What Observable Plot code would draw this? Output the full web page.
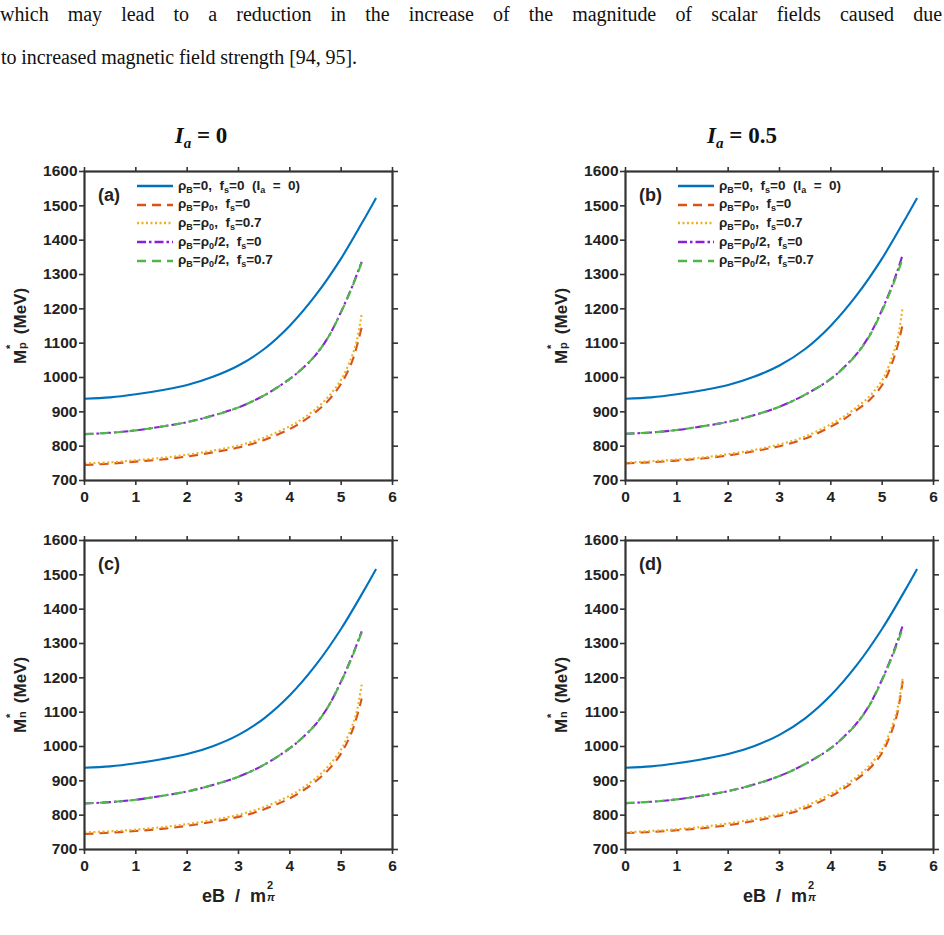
<!DOCTYPE html>
<html>
<head>
<meta charset="utf-8">
<script src="https://cdn.jsdelivr.net/npm/d3@7"></script>
<script src="https://cdn.jsdelivr.net/npm/@observablehq/plot@0.6"></script>
<style>
  html, body { margin: 0; padding: 0; background: #fff; }
  body { width: 944px; height: 935px; position: relative; overflow: hidden; }
  .abs { position: absolute; }
  .para { font-family: "Liberation Serif", serif; font-size: 20px; color: #111; white-space: nowrap; }
  .title { font-family: "Liberation Serif", "DejaVu Serif", serif; font-size: 23px; font-weight: bold; color: #111; transform: translateX(-50%); white-space: nowrap; }
  .title i { font-style: italic; }
  .title sub { font-size: 15px; vertical-align: -5px; font-style: italic; }
  .plabel { font-family: "Liberation Sans", Arial, sans-serif; font-weight: bold; font-size: 18px; color: #222; }
  .ylab { font-family: "Liberation Sans", Arial, sans-serif; font-weight: bold; font-size: 17px; color: #222; white-space: nowrap; transform: translate(-50%, -50%) rotate(-90deg); }
  .xlab { font-family: "Liberation Sans", Arial, sans-serif; font-weight: bold; font-size: 18px; color: #222; white-space: nowrap; transform: translateX(-50%); }
  .legend { font-family: "Liberation Sans", Arial, sans-serif; font-weight: bold; font-size: 13.5px; color: #222; }
  .legend .row { display: flex; align-items: center; height: 18.6px; white-space: nowrap; }
  .legend svg { margin-right: 5px; }
  .legend sub { font-size: 9px; vertical-align: -3px; }
  .stack { display: inline-block; position: relative; width: 11px; height: 1em; }
  .stack .sup { position: absolute; left: 1px; top: -0.45em; font-size: 11px; }
  .stack .sub { position: absolute; left: 1px; top: 0.6em; font-size: 11px; }
</style>
</head>
<body>
<script>
// ---------- data ----------
const xTicks = [0, 1, 2, 3, 4, 5, 6];
const yTicks = [700, 800, 900, 1000, 1100, 1200, 1300, 1400, 1500, 1600];

// eB / m_pi^2 grid for the rho_B = 0 curve
const xBlue = [0, 0.5, 1, 1.5, 2, 2.5, 3, 3.5, 4, 4.5, 5, 5.5, 5.68];
// eB / m_pi^2 grid for the finite-density curves
const xRho = [0, 0.5, 1, 1.5, 2, 2.5, 3, 3.5, 4, 4.25, 4.5, 4.75, 5, 5.2, 5.3, 5.4];

// Panel (a): M*_p, I_a = 0
const blueA   = [938, 942, 951, 963, 978, 1002, 1035, 1083, 1151, 1239, 1347, 1475, 1523];
const orangeA = [745, 749, 755, 761, 770, 782, 796, 818, 850, 872, 899, 933, 982, 1042, 1088, 1147];
const yellowA = [750, 753, 759, 766, 775, 787, 802, 825, 858, 880, 908, 944, 994, 1058, 1105, 1185];
const purpleA = [835, 839, 846, 857, 870, 889, 913, 948, 996, 1027, 1065, 1118, 1192, 1260, 1298, 1337];
const greenA  = [835, 839, 846, 857, 870, 889, 913, 948, 996, 1027, 1065, 1118, 1191, 1258, 1296, 1334];

// Panel (b): M*_p, I_a = 0.5
const blueB   = [938, 942, 951, 963, 978, 1002, 1035, 1083, 1151, 1239, 1347, 1475, 1523];
const orangeB = [750, 753, 758, 764, 773, 785, 800, 822, 857, 878, 905, 934, 978, 1045, 1092, 1155];
const yellowB = [752, 756, 761, 767, 777, 789, 805, 828, 864, 886, 913, 945, 992, 1062, 1112, 1205];
const purpleB = [836, 840, 847, 858, 871, 890, 915, 950, 996, 1029, 1068, 1122, 1198, 1270, 1312, 1358];
const greenB  = [836, 840, 847, 858, 871, 890, 915, 950, 996, 1028, 1067, 1120, 1195, 1265, 1305, 1346];

// Panel (c): M*_n, I_a = 0
const blueC   = [938, 942, 951, 963, 978, 1001, 1034, 1082, 1149, 1236, 1343, 1469, 1517];
const orangeC = [745, 749, 754, 760, 769, 781, 795, 817, 849, 871, 898, 932, 980, 1040, 1084, 1140];
const yellowC = [750, 753, 758, 765, 774, 786, 801, 824, 857, 879, 907, 943, 992, 1055, 1100, 1180];
const purpleC = [834, 838, 845, 856, 869, 888, 912, 947, 995, 1026, 1064, 1117, 1190, 1258, 1296, 1335];
const greenC  = [834, 838, 845, 856, 869, 888, 912, 947, 995, 1026, 1064, 1117, 1189, 1256, 1294, 1332];

// Panel (d): M*_n, I_a = 0.5
const blueD   = [938, 942, 951, 963, 978, 1001, 1034, 1082, 1149, 1236, 1343, 1469, 1517];
const orangeD = [748, 751, 756, 762, 771, 783, 798, 820, 855, 877, 904, 935, 982, 1050, 1100, 1190];
const yellowD = [750, 754, 759, 766, 776, 788, 803, 826, 862, 884, 911, 944, 992, 1062, 1112, 1200];
const purpleD = [835, 839, 846, 857, 870, 889, 914, 949, 995, 1028, 1067, 1120, 1196, 1267, 1308, 1352];
const greenD  = [835, 839, 846, 857, 870, 889, 914, 949, 995, 1027, 1066, 1119, 1194, 1263, 1302, 1345];

const styles = {
  blue:   {stroke: "#0072BD", dash: null},
  orange: {stroke: "#D95319", dash: "9,6"},
  yellow: {stroke: "#EDB120", dash: "2,2.5"},
  purple: {stroke: "#8B1FD9", dash: "9,3,2.5,3"},
  green:  {stroke: "#4DB848", dash: "9,6"}
};

const legendItems = [
  {key: "blue",   html: "ρ<sub>B</sub>=0,&nbsp; f<sub>s</sub>=0&nbsp; (I<sub>a</sub>&nbsp; = &nbsp;0)"},
  {key: "orange", html: "ρ<sub>B</sub>=ρ<sub>0</sub>,&nbsp; f<sub>s</sub>=0"},
  {key: "yellow", html: "ρ<sub>B</sub>=ρ<sub>0</sub>,&nbsp; f<sub>s</sub>=0.7"},
  {key: "purple", html: "ρ<sub>B</sub>=ρ<sub>0</sub>/2,&nbsp; f<sub>s</sub>=0"},
  {key: "green",  html: "ρ<sub>B</sub>=ρ<sub>0</sub>/2,&nbsp; f<sub>s</sub>=0.7"}
];

const panels = [
  {id: "(a)", left: 34,  top: 161, blue: blueA, orange: orangeA, yellow: yellowA, purple: purpleA, green: greenA, sub: "p", legend: true, xlab: false},
  {id: "(b)", left: 575, top: 161, blue: blueB, orange: orangeB, yellow: yellowB, purple: purpleB, green: greenB, sub: "p", legend: true, xlab: false},
  {id: "(c)", left: 34,  top: 530, blue: blueC, orange: orangeC, yellow: yellowC, purple: purpleC, green: greenC, sub: "n", legend: false, xlab: true},
  {id: "(d)", left: 575, top: 530, blue: blueD, orange: orangeD, yellow: yellowD, purple: purpleD, green: greenD, sub: "n", legend: false, xlab: true}
];

// ---------- layout constants ----------
const W = 378, H = 349, ML = 50, MR = 20, MT = 10, MB = 30;
const innerW = W - ML - MR, innerH = H - MT - MB;
const axisColor = "#333";
const fmt = d => String(d);

function toRows(xs, ys) { return xs.map((x, i) => ({x, y: ys[i]})); }

function lineMark(rows, key) {
  const s = styles[key];
  return Plot.line(rows, {x: "x", y: "y", stroke: s.stroke, strokeWidth: 2.1,
    strokeDasharray: s.dash, curve: "catmull-rom", strokeLinecap: "butt"});
}

function makePanel(p) {
  const plot = Plot.plot({
    width: W, height: H,
    marginLeft: ML, marginRight: MR, marginTop: MT, marginBottom: MB,
    x: {domain: [0, 6]},
    y: {domain: [700, 1600]},
    style: {fontFamily: "'Liberation Sans', Arial, sans-serif", fontWeight: "bold", fontSize: "15.5px", color: "#222", background: "transparent", overflow: "visible"},
    marks: [
      Plot.axisX({anchor: "bottom", ticks: xTicks, tickSize: 5, tickPadding: 5, tickFormat: fmt, label: null, stroke: axisColor, strokeWidth: 1.6, fill: "#222"}),
      Plot.axisX({anchor: "top", ticks: xTicks, tickSize: 5, tickFormat: () => "", label: null, stroke: axisColor, strokeWidth: 1.6}),
      Plot.axisY({anchor: "left", ticks: yTicks, tickSize: 5, tickPadding: 2, tickFormat: fmt, label: null, stroke: axisColor, strokeWidth: 1.6, fill: "#222"}),
      Plot.axisY({anchor: "right", ticks: yTicks, tickSize: 5, tickFormat: () => "", label: null, stroke: axisColor, strokeWidth: 1.6}),
      lineMark(toRows(xBlue, p.blue), "blue"),
      lineMark(toRows(xRho, p.orange), "orange"),
      lineMark(toRows(xRho, p.yellow), "yellow"),
      lineMark(toRows(xRho, p.purple), "purple"),
      lineMark(toRows(xRho, p.green), "green"),
      Plot.frame({stroke: axisColor, strokeWidth: 2.2})
    ]
  });
  plot.classList.add("abs");
  plot.style.left = p.left + "px";
  plot.style.top = p.top + "px";
  document.body.appendChild(plot);

  const fx = p.left + ML, fy = p.top + MT;

  const lab = document.createElement("div");
  lab.className = "abs plabel";
  lab.textContent = p.id;
  lab.style.left = (fx + 14) + "px";
  lab.style.top = (fy + 14) + "px";
  document.body.appendChild(lab);

  const yl = document.createElement("div");
  yl.className = "abs ylab";
  yl.innerHTML = `M<span class="stack"><span class="sup" style="top:-0.5em">*</span><span class="sub">${p.sub}</span></span> (MeV)`;
  yl.style.left = (fx - 64) + "px";
  yl.style.top = (fy + innerH / 2) + "px";
  document.body.appendChild(yl);

  if (p.xlab) {
    const xl = document.createElement("div");
    xl.className = "abs xlab";
    xl.innerHTML = `eB &nbsp;/&nbsp; m<span class="stack" style="width:12px"><span class="sup">2</span><span class="sub" style="font-style:italic">π</span></span>`;
    xl.style.left = (fx + innerW / 2 + 2) + "px";
    xl.style.top = (fy + innerH + 35) + "px";
    document.body.appendChild(xl);
  }

  if (p.legend) {
    const lg = document.createElement("div");
    lg.className = "abs legend";
    lg.style.left = (fx + 53) + "px";
    lg.style.top = (fy + 6) + "px";
    lg.innerHTML = legendItems.map(it => {
      const s = styles[it.key];
      const dash = s.dash ? `stroke-dasharray="${s.dash}"` : "";
      return `<div class="row"><svg width="36" height="6"><line x1="0" y1="3" x2="36" y2="3" stroke="${s.stroke}" stroke-width="2.4" ${dash}/></svg><span>${it.html}</span></div>`;
    }).join("");
    document.body.appendChild(lg);
  }
}

// ---------- page text ----------
const line1 = "which may lead to a reduction in the increase of the magnitude of scalar fields caused due";
const line2 = "to increased magnetic field strength [94, 95].";

const p2 = document.createElement("div");
p2.className = "abs para";
p2.style.left = "1px"; p2.style.top = "46px";
p2.textContent = line2;
document.body.appendChild(p2);
const w2 = p2.getBoundingClientRect().width;
const ls = (356 - w2) / (line2.length - 1);
p2.style.letterSpacing = ls.toFixed(3) + "px";

const p1 = document.createElement("div");
p1.className = "abs para";
p1.style.left = "0px"; p1.style.top = "3px"; p1.style.width = "942px";
p1.style.whiteSpace = "normal";
p1.style.textAlign = "justify"; p1.style.textAlignLast = "justify";
p1.style.letterSpacing = ls.toFixed(3) + "px";
p1.textContent = line1;
document.body.appendChild(p1);

const titles = [
  {html: "<i>I</i><sub>a</sub> = 0", x: 201},
  {html: "<i>I</i><sub>a</sub> = 0.5", x: 742}
];
titles.forEach(t => {
  const d = document.createElement("div");
  d.className = "abs title";
  d.innerHTML = t.html;
  d.style.left = t.x + "px";
  d.style.top = "123px";
  document.body.appendChild(d);
});

panels.forEach(makePanel);
</script>
</body>
</html>
